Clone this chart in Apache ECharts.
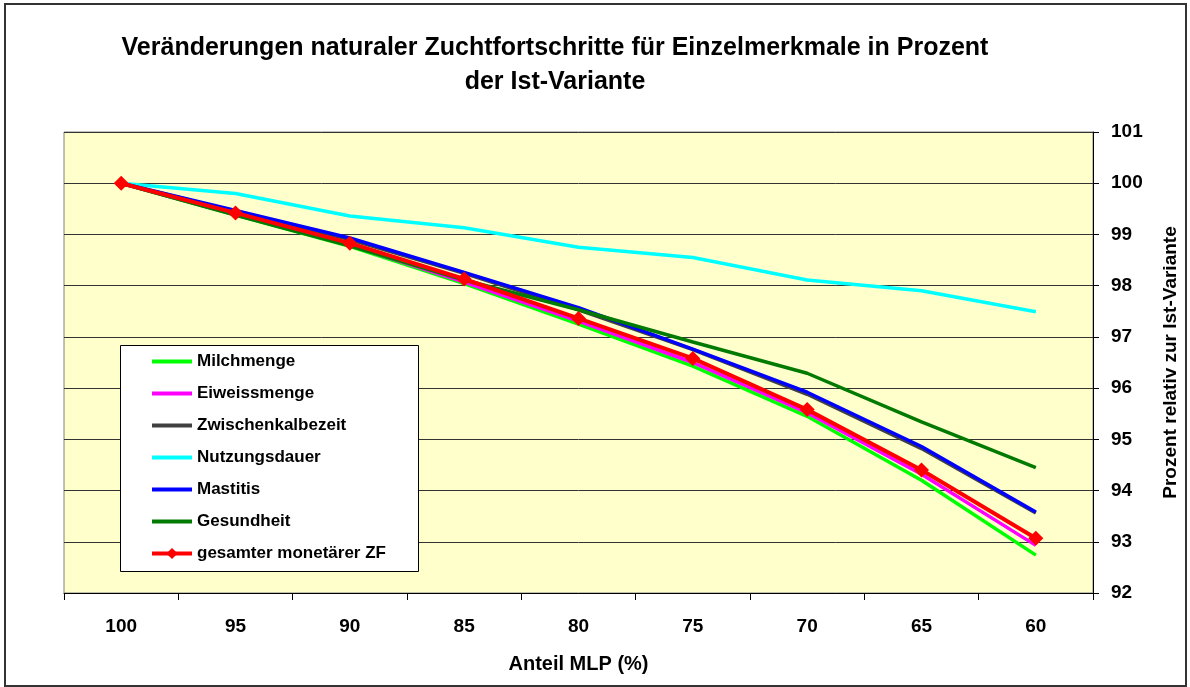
<!DOCTYPE html>
<html>
  <head>
    <title>Zuchtfortschritte</title>
    <meta charset="utf-8" />
    <script src="https://cdn.jsdelivr.net/npm/echarts@6/dist/echarts.min.js"></script>
  </head>
  <body style="margin:0;background:#fff;">
    <!-- chart container -->
    <div id="main" style="width: 1190px;height:687px;"></div>
    <script type="text/javascript">
      // Anteil MLP (%) - categories on the x axis
      var categories = ['100', '95', '90', '85', '80', '75', '70', '65', '60'];

      // values (Prozent relativ zur Ist-Variante)
      var milchmenge = [100, 99.38, 98.77, 98.04, 97.25, 96.43, 95.45, 94.2, 92.74];
      var eiweissmenge = [100, 99.39, 98.79, 98.07, 97.31, 96.5, 95.52, 94.32, 92.93];
      var zwischenkalbezeit = [100, 99.45, 98.9, 98.24, 97.53, 96.75, 95.88, 94.82, 93.56];
      var nutzungsdauer = [100, 99.8, 99.36, 99.13, 98.75, 98.55, 98.11, 97.9, 97.49];
      var mastitis = [100, 99.47, 98.93, 98.26, 97.57, 96.76, 95.92, 94.86, 93.58];
      var gesundheit = [100, 99.38, 98.78, 98.11, 97.53, 96.9, 96.29, 95.34, 94.45];
      var gesamtZF = [100, 99.42, 98.83, 98.13, 97.36, 96.58, 95.58, 94.4, 93.07];

      var yTicks = [92, 93, 94, 95, 96, 97, 98, 99, 100, 101];

      var legendNames = ['Milchmenge', 'Eiweissmenge', 'Zwischenkalbezeit', 'Nutzungsdauer',
                         'Mastitis', 'Gesundheit', 'gesamter monetärer ZF'];

      var FONT = '"Liberation Sans", Arial, sans-serif';

      function lineSeries(name, data, color, width, extra) {
        var s = {
          name: name,
          type: 'line',
          data: data,
          symbol: 'none',
          color: color,
          lineStyle: { color: color, width: width },
          itemStyle: { color: color }
        };
        for (var k in extra) s[k] = extra[k];
        return s;
      }

      // legend entries: plain lines, only the last one keeps its diamond
      var legendData = legendNames.map(function (n, i) {
        if (i === legendNames.length - 1) return { name: n };
        return { name: n, itemStyle: { opacity: 0 } };
      });

      var myChart = echarts.init(document.getElementById('main'));

      var option = {
        animation: false,
        backgroundColor: '#ffffff',
        title: {
          text: 'Veränderungen naturaler Zuchtfortschritte für Einzelmerkmale in Prozent\nder Ist-Variante',
          left: 550,
          top: 26,
          textAlign: 'center',
          textStyle: {
            fontFamily: FONT,
            fontSize: 25,
            fontWeight: 'bold',
            color: '#000',
            lineHeight: 34
          }
        },
        graphic: [
          {
            // outer frame of the chart
            type: 'rect',
            shape: { x: 5, y: 4, width: 1181, height: 682 },
            style: { fill: 'none', stroke: '#333', lineWidth: 2 },
            z: -1
          },
          {
            // legend box
            type: 'rect',
            shape: { x: 120.5, y: 345.5, width: 298, height: 226 },
            style: { fill: '#fff', stroke: '#000', lineWidth: 1 },
            z: 3
          }
        ],
        legend: {
          orient: 'vertical',
          left: 150,
          top: 352,
          itemWidth: 40,
          itemHeight: 14,
          itemGap: 13,
          padding: 0,
          data: legendData,
          lineStyle: { width: 4 },
          textStyle: {
            fontFamily: FONT,
            fontSize: 17,
            fontWeight: 'bold',
            color: '#000',
            lineHeight: 19
          },
          z: 5
        },
        grid: {
          left: 64,
          right: 97,
          top: 132,
          bottom: 94,
          containLabel: false,
          outerBoundsMode: 'none',
          show: true,
          backgroundColor: '#FFFFCC',
          borderColor: '#808080',
          borderWidth: 1
        },
        xAxis: {
          type: 'category',
          data: categories,
          boundaryGap: true,
          name: 'Anteil MLP (%)',
          nameLocation: 'middle',
          nameGap: 61,
          nameTextStyle: { fontFamily: FONT, fontSize: 20, fontWeight: 'bold', color: '#000' },
          axisLine: { lineStyle: { color: '#000', width: 1 } },
          axisTick: { show: true, length: 7, lineStyle: { color: '#000' } },
          axisLabel: { fontFamily: FONT, fontSize: 19, fontWeight: 'bold', color: '#000', margin: 24 },
          splitLine: { show: false }
        },
        yAxis: {
          type: 'value',
          position: 'right',
          min: yTicks[0],
          max: yTicks[yTicks.length - 1],
          interval: 1,
          name: 'Prozent relativ zur Ist-Variante',
          nameLocation: 'middle',
          nameGap: 68,
          nameRotate: 90,
          nameTextStyle: { fontFamily: FONT, fontSize: 19, fontWeight: 'bold', color: '#000' },
          axisLine: { show: true, lineStyle: { color: '#000', width: 1 } },
          axisTick: { show: true, length: 6, lineStyle: { color: '#000' } },
          axisLabel: { fontFamily: FONT, fontSize: 19, fontWeight: 'bold', color: '#000', margin: 18 },
          splitLine: { show: true, lineStyle: { color: '#333', width: 1 } }
        },
        series: [
          lineSeries('Milchmenge', milchmenge, '#00FF00', 3.5),
          lineSeries('Eiweissmenge', eiweissmenge, '#FF00FF', 3.5),
          lineSeries('Zwischenkalbezeit', zwischenkalbezeit, '#404040', 3.5),
          lineSeries('Nutzungsdauer', nutzungsdauer, '#00FFFF', 3.5),
          lineSeries('Mastitis', mastitis, '#0000FF', 3.5),
          lineSeries('Gesundheit', gesundheit, '#007A00', 3.5),
          lineSeries('gesamter monetärer ZF', gesamtZF, '#FF0000', 4, {
            symbol: 'diamond',
            symbolSize: 15,
            showSymbol: true
          })
        ]
      };

      myChart.setOption(option);
    </script>
  </body>
</html>
